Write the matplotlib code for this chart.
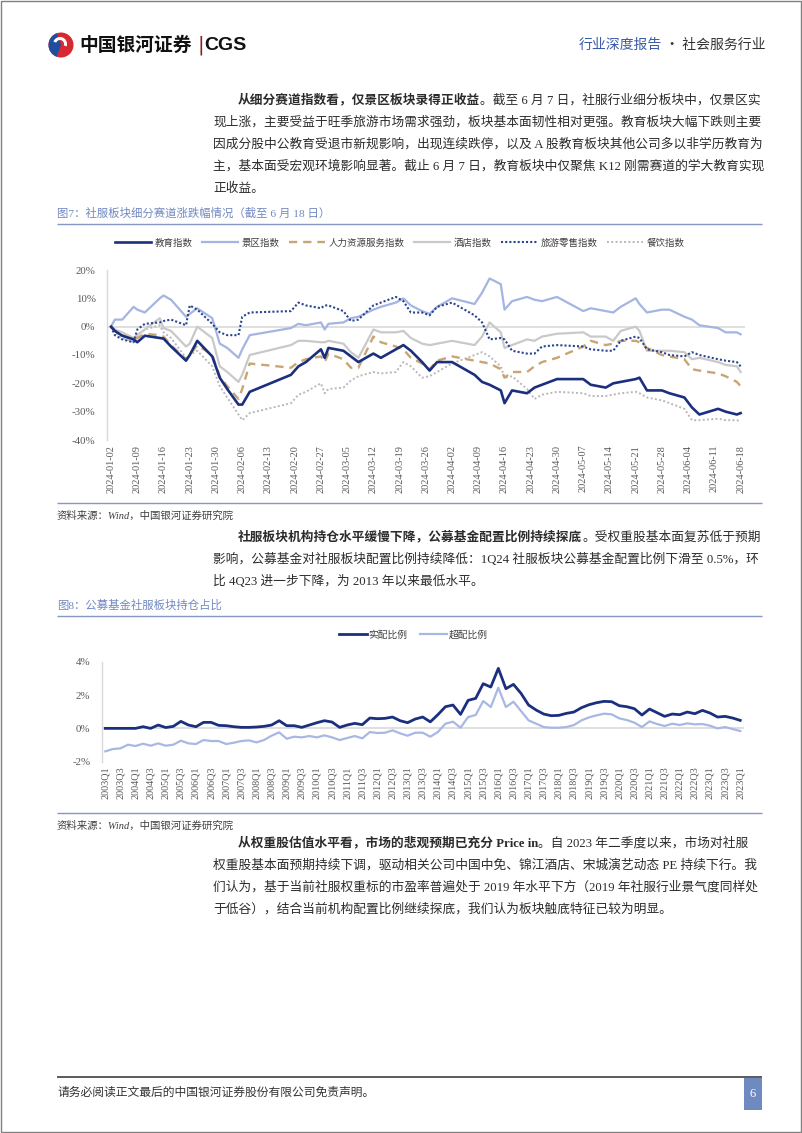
import matplotlib
matplotlib.use('Agg')
import matplotlib.pyplot as plt
from matplotlib.patches import Rectangle, Circle, Wedge
import pandas as pd

FAM = ['Liberation Serif', 'Noto Sans CJK SC']
plt.rcParams['font.family'] = FAM
TXT = '#2b2b2b'
TICK = '#595959'

# ---- 图7 data: 社服板块细分赛道涨跌幅 (%), 2024 ----
days = ['01-02', '01-03', '01-05', '01-08', '01-09', '01-11', '01-15', '01-16', '01-18', '01-22',
        '01-23', '01-25', '01-29', '01-31', '02-02', '02-05', '02-06', '02-08', '02-19', '02-21',
        '02-23', '02-27', '02-28', '02-29', '03-04', '03-06', '03-08', '03-12', '03-14', '03-18',
        '03-20', '03-22', '03-25', '03-27', '03-29', '04-02', '04-08', '04-10', '04-12', '04-15',
        '04-16', '04-18', '04-22', '04-24', '04-26', '04-30', '05-07', '05-09', '05-13', '05-15',
        '05-17', '05-21', '05-22', '05-24', '05-28', '05-30', '06-03', '06-05', '06-07', '06-12',
        '06-14', '06-17', '06-18']
edu = [0, -1.5, -3.2, -4.5, -5.5, -3.2, -4, -4.2, -7, -12,
       -10, -5, -10.5, -18, -22, -27.5, -27.5, -23, -17, -14,
       -12.5, -8, -11, -7.5, -8.5, -10.5, -12.5, -9.5, -11, -8,
       -6.5, -8.5, -12.5, -15.5, -12.5, -12.5, -17, -19.5, -20.5, -22.5,
       -27, -22.5, -23.5, -21.5, -20.5, -18.5, -18.5, -20.5, -21.5, -20,
       -19.5, -18.5, -18, -22.5, -22.5, -23.5, -25, -28.5, -31, -29,
       -30, -31, -30.5]
scenic = [0, 2.5, 2.5, 7, 6, 5, 10, 11, 9.5, 3.5,
          4.5, 6.5, 3, -6, -7.5, -11, -8, -3, -0.5, 1,
          0.5, 1.5, -1, 1, 1.5, 3, 3.5, 6, 7, 8.5,
          10, 7.5, 5.5, 4.5, 7, 10, 8, 12, 17, 15,
          6, 9, 10.5, 9.5, 9, 10.5, 5.5, 6.5, 5.5, 5,
          7, 10, 8, 5, 6, 6, 3.5, 2.5, 0.5, -0.5,
          -2, -2, -2.7]
hr = [0, -1.5, -3, -4.5, -4, -2.5, -3, -3.5, -6.5, -11.5,
      -10, -6.5, -10, -17.5, -21, -25.5, -22, -13, -14.5, -12.5,
      -11.5, -10.5, -12.5, -9.5, -11.5, -14.5, -14.5, -3.5, -5.5, -7,
      -8, -11, -13, -15, -12, -10.5, -12, -12.5, -13, -15,
      -18, -16, -16, -14, -12.5, -11, -7, -5, -6.5, -6,
      -5, -5, -5.5, -7.5, -10, -10.5, -11.5, -15, -15.5, -16.5,
      -17.5, -19.5, -21]
hotel = [0, -1, -2, -4, -3, -1, 3, -0.5, -1.5, -7,
         -6, 0, -4, -14, -16, -19.5, -17, -10, -6.5, -5,
         -5, -5.5, -5.5, -5, -6, -9, -11, -1, -2, -2,
         -1.5, -4, -6, -6.5, -6, -5, -6.5, -3.5, 1.5, -2,
         -7.5, -6.5, -4.5, -5, -3.5, -2.5, -2, -3.5, -3.5, -5,
         -1.5, 0, -1.5, -8.5, -8.5, -8.5, -9, -11.5, -11, -12.5,
         -13.5, -14, -16]
retail = [0, -3, -4.5, -5.5, -1, 1, 1.5, 2, 2.5, 0.5,
          7.5, 6, 1, -2, -3, -3, 3.5, 5, 5.5, 8.5,
          7.5, 6.5, 7.5, 7.5, 5.5, 2, 2.5, 7.5, 8.5, 10.5,
          9, 5, 5, 4, 7, 8.5, 4, 1.5, -4.5, -4,
          -4.5, -8.5, -9.5, -9.5, -7, -6.5, -7, -8, -8.5, -8.5,
          -5, -3.5, -4, -8, -9, -10, -10.5, -9, -10, -11.5,
          -12, -12.5, -14]
catering = [0, -2, -4, -5.5, -3, -1, 0.5, -2, -4, -11,
            -10, -8.5, -14, -21, -25, -31, -33, -30.5, -27, -24,
            -23, -20, -23.5, -22, -21.5, -19, -17.5, -16, -16.5, -16,
            -12.5, -14, -18, -17.5, -16, -13, -10, -9, -10.5, -14,
            -18, -17.5, -22, -25.5, -24, -23, -23.5, -24.5, -24.5, -24,
            -23.5, -23, -23.5, -25, -26, -27, -29, -33, -33, -32.5,
            -33, -33, -33.5]

# ---- 图8 data: 公募基金社服板块持仓占比 (%), 2003Q1-2024Q1 ----
quarters = [f'{y}Q{q}' for y in range(2003, 2025) for q in range(1, 5)][:85]
actual = [0.0, 0.0, 0.0, 0.0, 0.0, 0.1, 0.0, 0.2, 0.05, 0.12, 0.42, 0.2,
          0.1, 0.36, 0.36, 0.18, 0.16, 0.1, 0.06, 0.06, 0.08, 0.12, 0.2, 0.46,
          0.16, 0.16, 0.06, 0.2, 0.34, 0.46, 0.38, 0.06, 0.2, 0.3, 0.22, 0.62,
          0.58, 0.6, 0.68, 0.46, 0.34, 0.56, 0.68, 0.39, 0.82, 1.3, 1.4, 0.84,
          1.68, 1.8, 2.68, 2.48, 3.6, 2.38, 2.64, 2.1, 1.4, 1.1, 0.86, 0.76,
          0.78, 0.9, 0.98, 1.24, 1.42, 1.54, 1.62, 1.6, 1.36, 1.3, 1.18, 0.8,
          1.16, 0.94, 0.72, 0.86, 0.82, 0.98, 0.88, 1.08, 0.92, 0.68, 0.72, 0.62,
          0.48]
overweight = [-1.38, -1.24, -1.2, -0.98, -1.06, -0.92, -1.04, -0.9, -1.04, -0.98, -0.74, -0.9,
              -0.94, -0.7, -0.76, -0.76, -0.94, -0.86, -0.76, -0.72, -0.84, -0.7, -0.44, -0.24,
              -0.62, -0.5, -0.54, -0.46, -0.54, -0.42, -0.54, -0.7, -0.58, -0.46, -0.6, -0.22,
              -0.28, -0.26, -0.12, -0.3, -0.44, -0.26, -0.26, -0.5, -0.22, 0.28, 0.4, 0.04,
              0.68, 0.8, 1.64, 1.28, 2.44, 1.28, 1.6, 1.04, 0.48, 0.28, 0.08, 0.04,
              0.04, 0.08, 0.2, 0.48, 0.66, 0.78, 0.88, 0.84, 0.6, 0.5, 0.34, 0.08,
              0.42, 0.26, 0.14, 0.28, 0.2, 0.3, 0.24, 0.26, 0.16, 0.0, 0.08, -0.04,
              -0.16]
q_ticks = quarters[::2]
q_ticks[-1] = '2023Q1'  # last label as printed in the source chart

para1 = [('从细分赛道指数看，仅景区板块录得正收益', '。截至 6 月 7 日，社服行业细分板块中，仅景区实'),
         (None, '现上涨，主要受益于旺季旅游市场需求强劲，板块基本面韧性相对更强。教育板块大幅下跌则主要'),
         (None, '因成分股中公教育受退市新规影响，出现连续跌停，以及 A 股教育板块其他公司多以非学历教育为'),
         (None, '主，基本面受宏观环境影响显著。截止 6 月 7 日，教育板块中仅聚焦 K12 刚需赛道的学大教育实现'),
         (None, '正收益。')]
para2 = [('社服板块机构持仓水平缓慢下降，公募基金配置比例持续探底', '。受权重股基本面复苏低于预期'),
         (None, '影响，公募基金对社服板块配置比例持续降低：1Q24 社服板块公募基金配置比例下滑至 0.5%，环'),
         (None, '比 4Q23 进一步下降，为 2013 年以来最低水平。')]
para3 = [('从权重股估值水平看，市场的悲观预期已充分 Price in', '。自 2023 年二季度以来，市场对社服'),
         (None, '权重股基本面预期持续下调，驱动相关公司中国中免、锦江酒店、宋城演艺动态 PE 持续下行。我'),
         (None, '们认为，基于当前社服权重标的市盈率普遍处于 2019 年水平下方（2019 年社服行业景气度同样处'),
         (None, '于低谷），结合当前机构配置比例继续探底，我们认为板块触底特征已较为明显。')]

W, H = 802, 1133
fig = plt.figure(figsize=(W / 100, H / 100), dpi=100)
page = fig.add_axes([0, 0, 1, 1])
page.set_xlim(0, W)
page.set_ylim(H, 0)
page.axis('off')

page.add_patch(Rectangle((0.5, 0.5), W - 1.5, H - 1.5, fill=False, ec='#808080', lw=1))

# header
page.add_patch(Circle((61, 45), 12.5, fc='#d62a30', ec='none'))
page.add_patch(Wedge((61, 45), 12.5, 110, 250, fc='#1f4e9e', ec='none'))
page.add_patch(Wedge((60, 44), 7, 200, 20, width=3, fc='white', ec='none'))
page.text(79, 45, '中国银河证券', fontsize=13.5, weight='bold', family=['Noto Sans CJK SC'],
          color='#111111', va='center')
page.text(197, 45, '|', fontsize=14, color='#8b1c1c', va='center', family=['DejaVu Sans'])
page.text(204, 45, 'CGS', fontsize=14, weight='bold', family=['Liberation Sans'],
          color='#111111', va='center')
t_r = page.text(765, 45, ' · 社会服务行业', fontsize=10, color='#333333', ha='right', va='center',
                family=['Noto Sans CJK SC'])
page.annotate('行业深度报告', xy=(0, 0.5), xycoords=t_r, ha='right', va='center', fontsize=10,
              color='#3b5aa6', family=['Noto Sans CJK SC'])

FS = 9.15


def paragraph(lines, y0, step=22.2):
    for i, (bold, rest) in enumerate(lines):
        y = y0 + i * step
        if bold:
            t = page.text(238, y, bold, fontsize=FS, weight='bold', color=TXT, va='center')
            page.annotate(rest, xy=(1, 0), xycoords=t, va='bottom', ha='left', fontsize=FS, color=TXT)
        else:
            page.text(213, y, rest, fontsize=FS, color=TXT, va='center')


def fig_title(text, y):
    page.text(57, y, text, fontsize=8.2, color='#7189c0', va='center')
    page.hlines(y + 11, 57, 762, color='#8797c5', lw=1)


def source(y):
    page.hlines(y - 13, 57, 762, color='#8797c5', lw=1)
    page.text(57, y, '资料来源：Wind，中国银河证券研究院', fontsize=7.5, style='italic',
              color='#404040', va='center')


paragraph(para1, 100)
fig_title('图7：社服板块细分赛道涨跌幅情况（截至 6 月 18 日）', 213)
source(516)
paragraph(para2, 537)
fig_title('图8：公募基金社服板块持仓占比', 605)
source(826)
paragraph(para3, 843)

# footer
page.hlines(1077, 57, 762, color='#404040', lw=1.2)
page.text(57, 1093, '请务必阅读正文最后的中国银河证券股份有限公司免责声明。', fontsize=8.5,
          color='#333333', va='center')
page.add_patch(Rectangle((744, 1078), 18, 32, fc='#6f8ac0', ec='none'))
page.text(753, 1094, '6', fontsize=9, color='white', ha='center', va='center')


def style_axes(ax):
    ax.set_facecolor('none')
    for s in ('top', 'right', 'bottom'):
        ax.spines[s].set_visible(False)
    ax.spines['left'].set_color('#d9d9d9')
    ax.spines['left'].set_linewidth(1)
    ax.axhline(0, color='#d9d9d9', lw=1.2, zorder=0)


# ---- chart 1 ----
dates = pd.to_datetime(['2024-' + d for d in days])
ax1 = fig.add_axes([106.7 / W, 1 - 440 / H, 638.3 / W, 170 / H])
style_axes(ax1)
series1 = [
    ('教育指数', edu, dict(color='#1b2f7f', lw=1.9, zorder=6)),
    ('景区指数', scenic, dict(color='#a4b5e2', lw=1.6, zorder=3)),
    ('人力资源服务指数', hr, dict(color='#c7a574', lw=1.7, ls=(0, (3.5, 2.5)), zorder=4)),
    ('酒店指数', hotel, dict(color='#c9c9c9', lw=1.6, zorder=2)),
    ('旅游零售指数', retail, dict(color='#2a4590', lw=1.5, ls=(0, (1, 1)), zorder=5)),
    ('餐饮指数', catering, dict(color='#b8b8b8', lw=1.4, ls=(0, (1, 1.2)), zorder=1)),
]
for name, vals, st in series1:
    ax1.plot(dates, vals, label=name, **st)
ax1.set_ylim(-40, 20)
ax1.set_yticks(range(-40, 21, 10))
ax1.set_yticklabels([f'{v}%' for v in range(-40, 21, 10)])
pad_days = pd.Timedelta(hours=28)
ax1.set_xlim(dates[0] - pad_days, dates[-1] + pad_days)
weeks = pd.date_range('2024-01-02', '2024-06-18', freq='7D')
ax1.set_xticks(weeks)
ax1.set_xticklabels([d.strftime('%Y-%m-%d') for d in weeks], rotation=90)
ax1.tick_params(axis='y', length=0, labelsize=7.8, labelcolor=TICK, pad=8)
ax1.tick_params(axis='x', length=0, labelsize=7.4, labelcolor=TICK, pad=3.5)
ax1.legend(loc='center', bbox_to_anchor=(400 / W, 1 - 243 / H), bbox_transform=fig.transFigure,
           ncol=6, frameon=False, fontsize=6.8, handlelength=3.8, handletextpad=0.4,
           columnspacing=1.0, borderaxespad=0, borderpad=0, labelcolor='#404040')

# ---- chart 2 ----
ax2 = fig.add_axes([101.5 / W, 1 - 761.7 / H, 642.5 / W, 100 / H])
style_axes(ax2)
x = range(len(quarters))
ax2.plot(x, actual, color='#1b2f7f', lw=2.0, label='实配比例', zorder=3)
ax2.plot(x, overweight, color='#a9b8e3', lw=1.6, label='超配比例', zorder=2)
ax2.set_xlim(-0.5, len(quarters) - 0.5)
ax2.set_ylim(-2, 4)
ax2.set_yticks([-2, 0, 2, 4])
ax2.set_yticklabels([f'{v}%' for v in [-2, 0, 2, 4]])
ax2.set_xticks(list(x)[::2])
ax2.set_xticklabels(q_ticks, rotation=90)
ax2.tick_params(axis='y', length=0, labelsize=7.8, labelcolor=TICK, pad=8)
ax2.tick_params(axis='x', length=0, labelsize=7.3, labelcolor=TICK, pad=3.5)
ax2.legend(loc='center', bbox_to_anchor=(413.5 / W, 1 - 635 / H), bbox_transform=fig.transFigure,
           ncol=2, frameon=False, fontsize=7, handlelength=2.8, handletextpad=0.15,
           columnspacing=1.3, borderaxespad=0, borderpad=0, labelcolor='#404040')

fig.savefig('out.png', dpi=100)
